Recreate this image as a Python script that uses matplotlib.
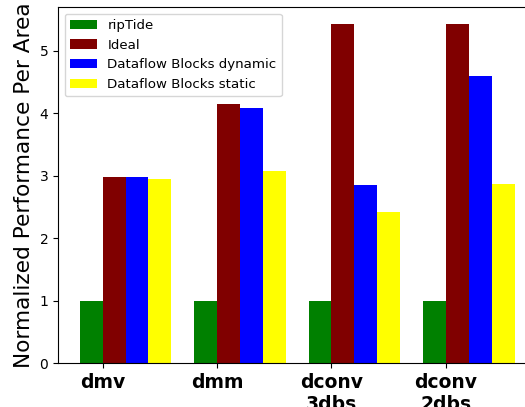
import matplotlib
matplotlib.use("Agg")
import matplotlib.pyplot as plt
import numpy as np

categories = ["dmv", "dmm", "dconv\n3dbs", "dconv\n2dbs"]
series_names = ["ripTide", "Ideal", "Dataflow Blocks dynamic", "Dataflow Blocks static"]
riptide = [1.0, 1.0, 1.0, 1.0]
ideal = [2.98, 4.15, 5.43, 5.43]
dyn = [2.98, 4.09, 2.85, 4.59]
static = [2.95, 3.08, 2.42, 2.87]
colors = ["green", "#800000", "blue", "yellow"]

fig = plt.figure(figsize=(5.25, 4.07), dpi=100)
ax = fig.add_axes([0.1105, 0.108, 0.911, 0.875])
x = np.arange(len(categories))
w = 0.2
for i, (vals, name, c) in enumerate(zip([riptide, ideal, dyn, static], series_names, colors)):
    ax.bar(x + (i - 0.5) * w, vals, w, color=c, label=name)
ax.set_xticks(x)
ax.set_xticklabels(categories, fontsize=13.5, fontweight="bold")
ax.tick_params(axis="y", labelsize=10)
ax.set_ylabel("Normalized Performance Per Area", fontsize=15.6)
ax.spines["right"].set_visible(False)
ax.legend(loc="upper left", fontsize=9.6)
fig.savefig("out.png", dpi=100)
